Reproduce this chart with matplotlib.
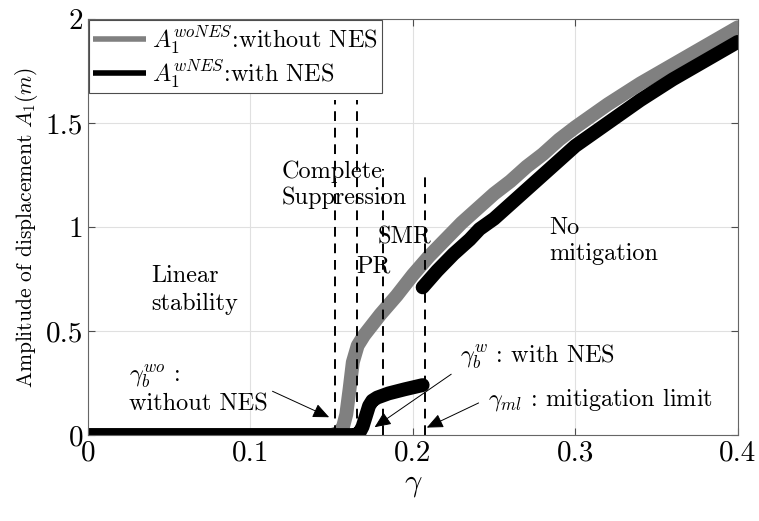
import numpy as np
import matplotlib
matplotlib.use("Agg")
import matplotlib.pyplot as plt

plt.rcParams['font.family'] = 'serif'
plt.rcParams['font.serif'] = ['cmr10']
plt.rcParams['mathtext.fontset'] = 'cm'
plt.rcParams['axes.formatter.use_mathtext'] = True
plt.rcParams['axes.unicode_minus'] = False

# amplitude without NES
g_wo = [0, 0.150, 0.154, 0.157, 0.159, 0.161, 0.163, 0.166, 0.170, 0.175,
        0.180, 0.190, 0.200, 0.210, 0.220, 0.230, 0.240, 0.250, 0.260, 0.270,
        0.280, 0.290, 0.300, 0.320, 0.340, 0.360, 0.380, 0.400]
a_wo = [0, 0, 0.01, 0.04, 0.10, 0.22, 0.35, 0.43, 0.48, 0.53,
        0.58, 0.67, 0.77, 0.86, 0.94, 1.02, 1.09, 1.16, 1.22, 1.29,
        1.35, 1.42, 1.48, 1.59, 1.69, 1.78, 1.87, 1.96]

# amplitude with NES, lower branch and upper branch
g_w1 = [0, 0.164, 0.167, 0.169, 0.171, 0.173, 0.175, 0.178, 0.185, 0.195, 0.206]
a_w1 = [0, 0, 0.01, 0.04, 0.09, 0.14, 0.165, 0.18, 0.20, 0.22, 0.24]
g_w2 = [0.206, 0.215, 0.225, 0.235, 0.241, 0.250, 0.260, 0.270, 0.280, 0.290,
        0.300, 0.320, 0.340, 0.360, 0.380, 0.400]
a_w2 = [0.71, 0.79, 0.87, 0.94, 0.99, 1.04, 1.11, 1.18, 1.25, 1.32,
        1.39, 1.50, 1.61, 1.71, 1.80, 1.89]

# dashed boundaries (x, top)
vx = [0.152, 0.1655, 0.1815, 0.2074]
vtop = [1.61, 1.61, 1.28, 1.26]

fig = plt.figure(figsize=(7.59, 5.21), dpi=100)
ax = fig.add_axes([0.116, 0.165, 0.856, 0.7985])

ax.plot(g_wo, a_wo, color=(0.5, 0.5, 0.5), lw=10, solid_capstyle='round',
        solid_joinstyle='round', label=r'$A_1^{woNES}$:without NES')
ax.plot(g_w1, a_w1, color='k', lw=10, solid_capstyle='round',
        solid_joinstyle='round', label=r'$A_1^{wNES}$:with NES')
ax.plot(g_w2, a_w2, color='k', lw=10, solid_capstyle='round',
        solid_joinstyle='round')

for x, t in zip(vx, vtop):
    ax.plot([x, x], [0, t], 'k--', lw=1.4, dashes=(5, 3.5))

fs = 17.5
ax.text(0.039, 0.82, 'Linear\nstability', fontsize=fs, va='top', linespacing=1.35)
ax.text(0.119, 1.32, 'Complete\nSuppression', fontsize=fs, va='top', linespacing=1.2)
ax.text(0.178, 0.92, 'SMR', fontsize=fs)
ax.text(0.165, 0.78, 'PR', fontsize=fs)
ax.text(0.284, 1.05, 'No\nmitigation', fontsize=fs, va='top', linespacing=1.25)

arr = dict(arrowstyle='-|>,head_length=0.5,head_width=0.22', lw=0.7,
           color='k', mutation_scale=20)
ax.annotate('', xy=(0.150, 0.08), xytext=(0.112, 0.216), arrowprops=arr)
ax.text(0.025, 0.35, r'$\gamma_b^{wo}$ :' + '\nwithout NES', fontsize=fs,
        va='top', linespacing=1.2)
ax.annotate('', xy=(0.175, 0.03), xytext=(0.225, 0.30), arrowprops=arr)
ax.text(0.229, 0.375, r'$\gamma_b^{w}$ : with NES', fontsize=fs, va='center')
ax.annotate('', xy=(0.207, 0.03), xytext=(0.242, 0.16), arrowprops=arr)
ax.text(0.246, 0.17, r'$\gamma_{ml}$ : mitigation limit', fontsize=fs, va='center')

ax.set_xlim(0, 0.4)
ax.set_ylim(0, 2)
ax.set_xticks([0, 0.1, 0.2, 0.3, 0.4])
ax.set_xticklabels(['0', '0.1', '0.2', '0.3', '0.4'])
ax.set_yticks([0, 0.5, 1, 1.5, 2])
ax.set_yticklabels(['0', '0.5', '1', '1.5', '2'])
ax.tick_params(direction='in', top=True, right=True, labelsize=21, length=5,
               color='0.3')
ax.grid(True, color='0.88', lw=0.8)
for s in ax.spines.values():
    s.set_color('0.4')
    s.set_linewidth(0.8)

ax.set_xlabel(r'$\gamma$', fontsize=22)
ax.set_ylabel(r'Amplitude of displacement $A_1(m)$', fontsize=15.5)

leg = ax.legend(loc='upper left', fontsize=17.5, fancybox=False, edgecolor='0.3',
                borderpad=0.15, handlelength=2.2, handletextpad=0.25,
                labelspacing=0.05, borderaxespad=0.05, framealpha=1)
leg.get_frame().set_linewidth(0.8)
for ln in leg.get_lines():
    ln.set_linewidth(4)
    ln.set_solid_capstyle('butt')

fig.savefig('out.png', dpi=100)
